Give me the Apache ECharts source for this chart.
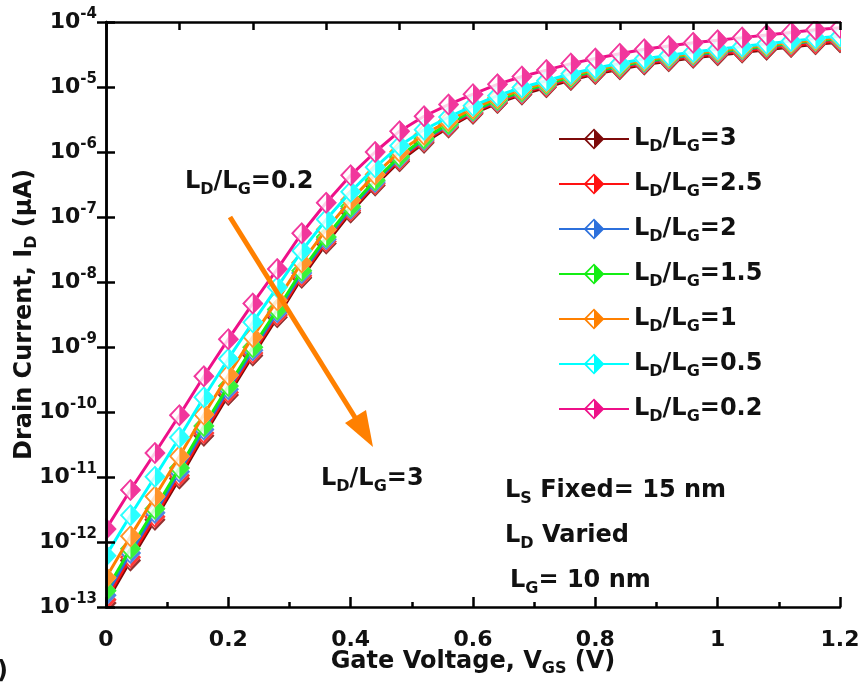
<!DOCTYPE html>
<html>
<head>
<meta charset="utf-8">
<script src="https://cdn.jsdelivr.net/npm/echarts@6/dist/echarts.min.js"></script>
<style>
  html, body { margin: 0; padding: 0; background: #fff; }
  #chart { width: 863px; height: 685px; }
</style>
</head>
<body>
<div id="chart"></div>
<script>
// Gate voltage sweep (V)
const gateVoltage = [0, 0.04, 0.08, 0.12, 0.16, 0.2, 0.24, 0.28, 0.32, 0.36, 0.4, 0.44, 0.48, 0.52, 0.56, 0.6,
  0.64, 0.68, 0.72, 0.76, 0.8, 0.84, 0.88, 0.92, 0.96, 1, 1.04, 1.08, 1.12, 1.16, 1.2];

// Drain current (µA) for each L_D/L_G ratio
const idRatio3 = [1.15e-13, 5.20e-13, 2.20e-12, 9.51e-12, 4.31e-11, 1.82e-10, 7.38e-10, 2.86e-9, 1.16e-8, 3.91e-8,
  1.17e-7, 3.05e-7, 7.21e-7, 1.39e-6, 2.38e-6, 3.89e-6, 5.65e-6, 7.66e-6, 9.91e-6, 1.28e-5, 1.58e-5, 1.87e-5,
  2.21e-5, 2.49e-5, 2.81e-5, 3.09e-5, 3.40e-5, 3.75e-5, 4.13e-5, 4.55e-5, 4.90e-5];
const idRatio2p5 = [1.29e-13, 5.81e-13, 2.44e-12, 1.05e-11, 4.74e-11, 2.00e-10, 8.05e-10, 3.10e-9, 1.25e-8, 4.21e-8,
  1.26e-7, 3.25e-7, 7.66e-7, 1.47e-6, 2.50e-6, 4.07e-6, 5.92e-6, 8.02e-6, 1.04e-5, 1.34e-5, 1.66e-5, 1.96e-5,
  2.31e-5, 2.61e-5, 2.94e-5, 3.24e-5, 3.56e-5, 3.93e-5, 4.33e-5, 4.76e-5, 5.13e-5];
const idRatio2 = [1.51e-13, 6.76e-13, 2.82e-12, 1.20e-11, 5.37e-11, 2.24e-10, 8.95e-10, 3.42e-9, 1.37e-8, 4.55e-8,
  1.35e-7, 3.47e-7, 8.13e-7, 1.55e-6, 2.63e-6, 4.27e-6, 6.19e-6, 8.39e-6, 1.09e-5, 1.41e-5, 1.74e-5, 2.06e-5,
  2.43e-5, 2.75e-5, 3.10e-5, 3.43e-5, 3.78e-5, 4.18e-5, 4.61e-5, 5.09e-5, 5.50e-5];
const idRatio1p5 = [1.78e-13, 7.87e-13, 3.25e-12, 1.37e-11, 6.08e-11, 2.51e-10, 9.95e-10, 3.77e-9, 1.49e-8, 4.92e-8,
  1.45e-7, 3.68e-7, 8.55e-7, 1.61e-6, 2.72e-6, 4.37e-6, 6.34e-6, 8.59e-6, 1.11e-5, 1.44e-5, 1.78e-5, 2.10e-5,
  2.49e-5, 2.81e-5, 3.18e-5, 3.51e-5, 3.87e-5, 4.28e-5, 4.72e-5, 5.21e-5, 5.62e-5];
const idRatio1 = [2.82e-13, 1.23e-12, 5.01e-12, 2.09e-11, 9.12e-11, 3.72e-10, 1.43e-9, 5.22e-9, 2.00e-8, 6.40e-8,
  1.82e-7, 4.49e-7, 1.01e-6, 1.85e-6, 3.01e-6, 4.68e-6, 6.76e-6, 9.12e-6, 1.17e-5, 1.51e-5, 1.86e-5, 2.20e-5,
  2.59e-5, 2.92e-5, 3.30e-5, 3.63e-5, 4.00e-5, 4.41e-5, 4.85e-5, 5.35e-5, 5.75e-5];
const idRatio0p5 = [6.17e-13, 2.58e-12, 1.01e-11, 4.04e-11, 1.69e-10, 6.61e-10, 2.40e-9, 8.32e-9, 3.02e-8, 9.12e-8,
  2.45e-7, 5.81e-7, 1.25e-6, 2.20e-6, 3.44e-6, 5.13e-6, 7.35e-6, 9.82e-6, 1.25e-5, 1.60e-5, 1.95e-5, 2.30e-5,
  2.72e-5, 3.06e-5, 3.45e-5, 3.80e-5, 4.19e-5, 4.61e-5, 5.08e-5, 5.60e-5, 6.03e-5];
const idRatio0p2 = [1.58e-12, 6.31e-12, 2.34e-11, 8.91e-11, 3.55e-10, 1.32e-9, 4.68e-9, 1.58e-8, 5.62e-8, 1.66e-7,
  4.37e-7, 1.0e-6, 2.09e-6, 3.55e-6, 5.37e-6, 7.76e-6, 1.10e-5, 1.45e-5, 1.82e-5, 2.29e-5, 2.75e-5, 3.24e-5,
  3.80e-5, 4.27e-5, 4.79e-5, 5.25e-5, 5.75e-5, 6.31e-5, 6.92e-5, 7.59e-5, 8.13e-5];

const ratioLabels = ['3', '2.5', '2', '1.5', '1', '0.5', '0.2'];
const ratioColors = ['#7d0a0a', '#ff1212', '#2c70dc', '#14ee14', '#ff8000', '#00ffff', '#ee1089'];
const ratioSeries = [idRatio3, idRatio2p5, idRatio2, idRatio1p5, idRatio1, idRatio0p5, idRatio0p2];

const FONT = '"DejaVu Sans", "Liberation Sans", Arial, sans-serif';
// Diamond whose left half is an outline and right half is solid
const HALF_DIAMOND = 'path://M0,-1L1,0L0,1L-1,0Z M0,-0.8L-0.76,0L0,0.8Z';
const MARK_SIZE = [21, 22];

const mainStyle = { fontSize: 24, fontWeight: 'bold', fontFamily: FONT, color: '#111' };
const subStyle = { fontSize: 16, fontWeight: 'bold', fontFamily: FONT, color: '#111', padding: [15, 0, 0, 0] };
const tickStyle = { fontSize: 22, fontWeight: 'bold', fontFamily: FONT, color: '#111' };
const supStyle = { fontSize: 15, fontWeight: 'bold', fontFamily: FONT, color: '#111', padding: [0, 0, 15, 0] };

const seriesName = r => 'LD/LG=' + r;

const series = [];
ratioSeries.forEach((vals, k) => {
  const pts = gateVoltage.map((v, i) => [v, vals[i]]);
  const color = ratioColors[k];
  series.push({
    type: 'line', name: seriesName(ratioLabels[k]), data: pts, z: 2 + 3 * k,
    symbol: HALF_DIAMOND, symbolSize: MARK_SIZE, showSymbol: true,
    lineStyle: { width: 3, color }, itemStyle: { color }, animation: false, silent: true
  });
  // white backing so the open half of each marker hides what is underneath
  series.push({
    type: 'scatter', name: 'back' + k, data: pts, z: 3 + 3 * k,
    symbol: 'diamond', symbolSize: MARK_SIZE, itemStyle: { color: '#fff' }, animation: false, silent: true
  });
  series.push({
    type: 'scatter', name: 'mark' + k, data: pts, z: 4 + 3 * k,
    symbol: HALF_DIAMOND, symbolSize: MARK_SIZE, itemStyle: { color }, animation: false, silent: true
  });
});

const axisLine = { show: true, lineStyle: { color: '#000', width: 2.5 } };
const richText = (x, y, text) => ({
  type: 'text', x, y, z: 60,
  style: {
    text, verticalAlign: 'middle', align: 'left',
    rich: {
      m: { fontSize: 24, fontWeight: 'bold', fontFamily: FONT, fill: '#111' },
      s: { fontSize: 16, fontWeight: 'bold', fontFamily: FONT, fill: '#111', padding: [15, 0, 0, 0] }
    }
  }
});

const chart = echarts.init(document.getElementById('chart'), null, { renderer: 'canvas' });
chart.setOption({
  animation: false,
  backgroundColor: '#fff',
  grid: { left: 106, right: 23, top: 22, bottom: 78, containLabel: false, outerBoundsMode: 'none' },
  xAxis: [{
    type: 'value', min: 0, max: 1.2, interval: 0.2, position: 'bottom', z: 50,
    axisLine, splitLine: { show: false },
    axisTick: { inside: true, length: 10, lineStyle: { color: '#000', width: 2.5 } },
    minorTick: { show: true, splitNumber: 2, length: 5, lineStyle: { color: '#000', width: 2.5 } },
    axisLabel: { margin: 22, ...tickStyle },
    name: '{m|Gate Voltage, V}{s|GS}{m| (V)}', nameLocation: 'middle', nameGap: 39, nameMoveOverlap: false,
    nameTextStyle: { rich: { m: mainStyle, s: subStyle } }
  }, {
    type: 'value', min: 0, max: 1.2, interval: 0.12, position: 'top', z: 50,
    axisLine, splitLine: { show: false },
    axisTick: { inside: true, length: 8, lineStyle: { color: '#000', width: 2.5 } },
    axisLabel: { show: false }
  }],
  yAxis: [{
    type: 'log', logBase: 10, min: 1e-13, max: 1e-4, interval: 1, position: 'left', z: 50,
    axisLine, splitLine: { show: false },
    axisTick: { inside: true, length: 9, lineStyle: { color: '#000', width: 2.5 } },
    axisLabel: {
      margin: 9,
      formatter: v => '{b|10}{p|' + Math.round(Math.log10(v)) + '}',
      rich: { b: tickStyle, p: supStyle }
    },
    name: '{m|Drain Current, I}{s|D}{m| (μA)}', nameLocation: 'middle', nameGap: 66, nameRotate: 90,
    nameMoveOverlap: false,
    nameTextStyle: { rich: { m: mainStyle, s: subStyle } }
  }, {
    type: 'log', logBase: 10, min: 1e-13, max: 1e-4, interval: 1, position: 'right', z: 50,
    axisLine, splitLine: { show: false },
    axisTick: { inside: true, length: 9, lineStyle: { color: '#000', width: 2.5 } },
    axisLabel: { show: false }
  }],
  legend: {
    orient: 'vertical', left: 558, top: 127, z: 60,
    itemWidth: 70, itemHeight: 26, itemGap: 17.5, padding: 0,
    data: ratioLabels.map(seriesName),
    formatter: name => '{m|L}{s|D}{m|/L}{s|G}{m|=' + name.split('=')[1] + '}',
    textStyle: { rich: { m: mainStyle, s: subStyle } },
    selectedMode: false
  },
  graphic: [
    // white margins keep markers from spilling past the frame
    { type: 'rect', z: 40, silent: true, shape: { x: 0, y: 0, width: 105, height: 685 }, style: { fill: '#fff' } },
    { type: 'rect', z: 40, silent: true, shape: { x: 841, y: 0, width: 22, height: 685 }, style: { fill: '#fff' } },
    { type: 'rect', z: 40, silent: true, shape: { x: 0, y: 0, width: 863, height: 21 }, style: { fill: '#fff' } },
    { type: 'rect', z: 40, silent: true, shape: { x: 0, y: 608, width: 863, height: 77 }, style: { fill: '#fff' } },
    // trend arrow
    { type: 'line', z: 30, silent: true, shape: { x1: 230, y1: 217, x2: 356, y2: 419 },
      style: { stroke: '#ff8000', lineWidth: 5 } },
    { type: 'polygon', z: 30, silent: true, shape: { points: [[373, 447], [345, 423], [366, 410]] },
      style: { fill: '#ff8000' } },
    richText(185, 182, '{m|L}{s|D}{m|/L}{s|G}{m|=0.2}'),
    richText(321, 479, '{m|L}{s|D}{m|/L}{s|G}{m|=3}'),
    richText(505, 491, '{m|L}{s|S}{m| Fixed= 15 nm}'),
    richText(505, 536, '{m|L}{s|D}{m| Varied}'),
    richText(510, 581, '{m|L}{s|G}{m|= 10 nm}'),
    { type: 'text', x: 8, y: 672, z: 60, style: { text: '(b)', align: 'right', verticalAlign: 'middle',
      font: 'bold 24px ' + FONT, fill: '#111' } }
  ],
  series
});
</script>
</body>
</html>
